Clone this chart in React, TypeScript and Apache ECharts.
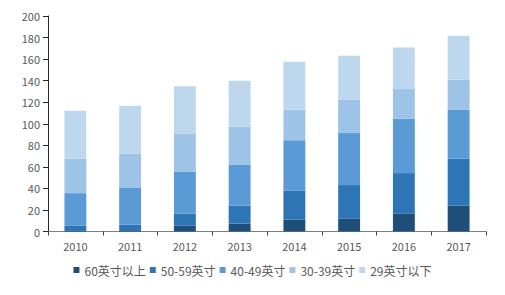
import React, { useEffect, useRef } from "react";
import * as echarts from "echarts";

const years = ["2010", "2011", "2012", "2013", "2014", "2015", "2016", "2017"];
const seriesNames = ["60英寸以上", "50-59英寸", "40-49英寸", "30-39英寸", "29英寸以下"];
const s60 = [0.5, 0.5, 5.3, 7.4, 10.9, 11.8, 16.4, 23.9];
const s50 = [4.8, 5.7, 11.4, 16.7, 27.2, 31.3, 37.8, 43.6];
const s40 = [30.3, 34.1, 38.7, 38.1, 46.7, 48.2, 50.4, 45.4];
const s30 = [31.9, 31.8, 35.0, 35.0, 28.1, 31.2, 27.6, 27.9];
const s29 = [44.5, 44.6, 44.5, 42.7, 44.6, 40.6, 38.6, 40.8];
const colors = ["#1f4e79", "#2e75b6", "#5b9bd5", "#9dc3e6", "#bdd7ee"];

export default function App() {
  const ref = useRef<HTMLDivElement>(null);
  useEffect(() => {
    document.body.style.margin = "0";
    if (!ref.current) return;
    const chart = echarts.init(ref.current, undefined, { renderer: "svg" });
    const data = [s60, s50, s40, s30, s29];
    chart.setOption({
      animation: false,
      color: colors,
      textStyle: { fontFamily: "'Noto Sans CJK SC', 'Noto Sans', sans-serif" },
      grid: { left: 48, right: 19, top: 16, bottom: 63.5 },
      legend: {
        bottom: 14,
        left: "center",
        icon: "rect",
        itemWidth: 6,
        itemHeight: 6,
        itemGap: 4,
        textStyle: { color: "#595959", fontSize: 12 },
        data: seriesNames,
      },
      xAxis: {
        type: "category",
        data: years,
        axisLine: { lineStyle: { color: "#7f7f7f", width: 1 } },
        axisTick: { show: true, length: 4, lineStyle: { color: "#404040" } },
        axisLabel: { color: "#595959", fontSize: 11, margin: 9 },
      },
      yAxis: {
        type: "value",
        min: 0,
        max: 200,
        interval: 20,
        axisLine: { show: true, lineStyle: { color: "#262626", width: 1 } },
        axisTick: { show: true, length: 5, lineStyle: { color: "#262626" } },
        axisLabel: { color: "#595959", fontSize: 11, margin: 8 },
        splitLine: { show: false },
      },
      series: seriesNames.map((name, i) => ({
        name,
        type: "bar",
        stack: "total",
        barWidth: "40%",
        data: data[i],
        itemStyle: { color: colors[i] },
      })),
    });
    return () => chart.dispose();
  }, []);
  return <div ref={ref} style={{ width: 505, height: 295 }} />;
}
